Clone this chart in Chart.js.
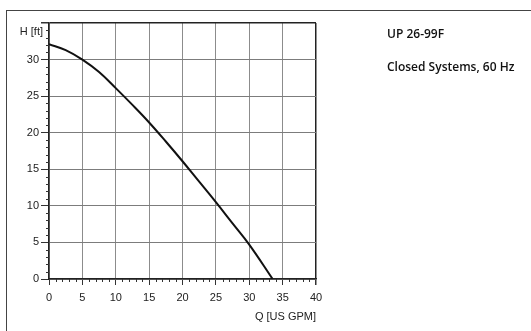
<!DOCTYPE html>
<html>
<head>
<meta charset="utf-8">
<script src="https://cdn.jsdelivr.net/npm/chart.js@4/dist/chart.umd.min.js"></script>
<style>
  body { margin: 0; background: #fff; }
  #wrap { position: relative; width: 531px; height: 331px; overflow: hidden; }
  #frame { position: absolute; left: 6px; top: 10px; width: 600px; height: 400px;
           border-top: 1.5px solid #444; border-left: 1.5px solid #444; }
  .note { position: absolute; left: 387px; font-family: "Open Sans", sans-serif;
          font-weight: 600; font-size: 12px; color: #111; }
  canvas { position: absolute; left: 0; top: 0; }
</style>
</head>
<body>
<div id="wrap">
  <div id="frame"></div>
  <canvas id="chart" width="531" height="331"></canvas>
  <div class="note" style="top:25px">UP 26-99F</div>
  <div class="note" style="top:58px">Closed Systems, 60 Hz</div>
</div>
<script>
// Pump curve: flow in US GPM, head in ft.
const flow = [0, 2.5, 5, 7.5, 10, 12.5, 15, 17.5, 20, 22.5, 25, 27.5, 30, 33.5];
const head = [32.1, 31.3, 30, 28.3, 26.1, 23.8, 21.4, 18.8, 16.1, 13.3, 10.5, 7.6, 4.7, 0];

const xMax = 40;
const yMax = 35;

// Short minor ticks every 1 unit, like the printed chart.
const minorTicks = {
    id: "minorTicks",
    afterDraw(chart) {
        const ctx = chart.ctx;
        const x = chart.scales.x;
        const y = chart.scales.y;
        ctx.save();
        ctx.strokeStyle = "#333";
        ctx.lineWidth = 1;
        ctx.beginPath();
        for (let i = 1; i < xMax; i++) {
            if (i % 5 === 0) continue;
            const px = Math.round(x.getPixelForValue(i)) + 0.5;
            ctx.moveTo(px, y.bottom);
            ctx.lineTo(px, y.bottom + 3);
        }
        for (let i = 1; i < yMax; i++) {
            if (i % 5 === 0) continue;
            const py = Math.round(y.getPixelForValue(i)) + 0.5;
            ctx.moveTo(x.left - 3, py);
            ctx.lineTo(x.left, py);
        }
        ctx.stroke();
        // axis name for head, sitting at the top of the y axis
        ctx.fillStyle = "#222";
        ctx.font = "11px 'Liberation Sans', Arial, sans-serif";
        ctx.textAlign = "right";
        ctx.textBaseline = "middle";
        ctx.fillText("H [ft]", x.left - 6, y.top + 9);
        ctx.restore();
    }
};

const tickFont = { family: "'Liberation Sans', Arial, sans-serif", size: 11 };

new Chart(document.getElementById("chart").getContext("2d"), {
    type: "line",
    data: {
        datasets: [
            {
                data: flow.map((q, i) => ({ x: q, y: head[i] })),
                borderColor: "#111",
                borderWidth: 2,
                pointRadius: 0,
                fill: false,
                tension: 0.4
            }
        ]
    },
    options: {
        responsive: false,
        animation: false,
        layout: { padding: { top: 23, right: 215, left: 0, bottom: 0 } },
        plugins: { legend: { display: false }, tooltip: { enabled: false } },
        scales: {
            x: {
                type: "linear",
                min: 0,
                max: xMax,
                afterFit: (s) => { s.height = 52; },
                ticks: { stepSize: 5, color: "#222", font: tickFont, padding: 6, maxRotation: 0 },
                grid: {
                    color: (c) => c.tick && c.tick.value === xMax ? "#222" : "#8c8c8c",
                    lineWidth: (c) => c.tick && c.tick.value === xMax ? 1.5 : 1,
                    tickLength: 6,
                    tickColor: "#333"
                },
                border: { color: "#222", width: 1.5 },
                title: {
                    display: true,
                    text: "Q [US GPM]",
                    align: "end",
                    color: "#222",
                    font: tickFont,
                    padding: { top: 2, bottom: 7 }
                }
            },
            y: {
                type: "linear",
                min: 0,
                max: yMax,
                afterFit: (s) => { s.width = 49; },
                ticks: {
                    stepSize: 5,
                    color: "#222",
                    font: tickFont,
                    padding: 2,
                    callback: (v) => v === yMax ? "" : v
                },
                grid: {
                    color: (c) => c.tick && c.tick.value === yMax ? "#222" : "#7c7c7c",
                    lineWidth: (c) => c.tick && c.tick.value === yMax ? 1.5 : 1,
                    tickLength: 8,
                    tickColor: "#333"
                },
                border: { color: "#222", width: 1.5 }
            }
        }
    },
    plugins: [minorTicks]
});
</script>
</body>
</html>
